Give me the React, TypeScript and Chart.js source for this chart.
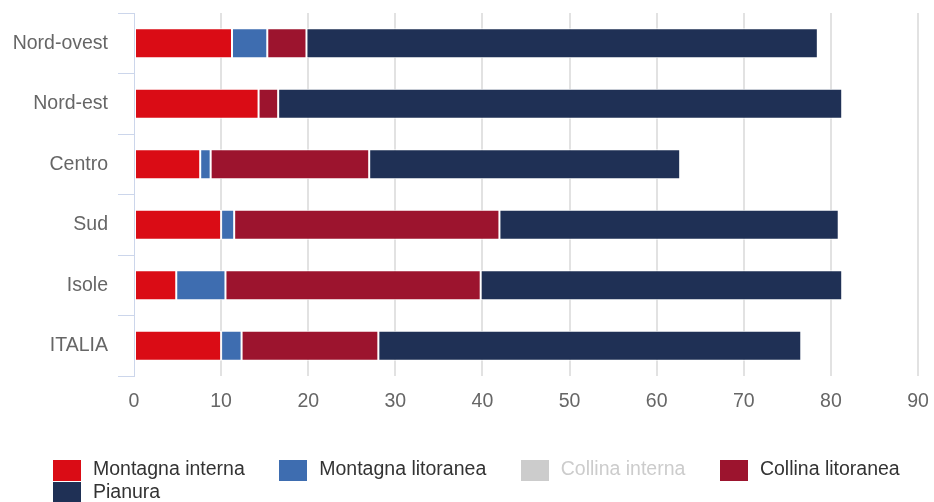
import React, { useEffect, useRef } from 'react';
import { Chart, registerables } from 'chart.js';

Chart.register(...registerables);

const categories = ['Nord-ovest', 'Nord-est', 'Centro', 'Sud', 'Isole', 'ITALIA'];
const montagnaInterna = [11.25, 14.3, 7.6, 10.0, 4.85, 10.0];
const montagnaLitoranea: (number | null)[] = [4.05, null, 1.2, 1.5, 5.65, 2.35];
const collinaInterna: (number | null)[] = [null, null, null, null, null, null];
const collinaLitoranea = [4.5, 2.25, 18.2, 30.45, 29.3, 15.7];
const pianura = [58.7, 64.75, 35.7, 38.95, 41.5, 48.55];
const xTicks = [0, 10, 20, 30, 40, 50, 60, 70, 80, 90];

const FONT = '"Liberation Sans", Arial, sans-serif';

const legendPlugin = {
  id: 'customLegend',
  afterDraw(chart: any) {
    const ctx = chart.ctx as CanvasRenderingContext2D;
    ctx.save();
    ctx.font = `19.5px ${FONT}`;
    ctx.textBaseline = 'middle';
    ctx.textAlign = 'left';
    const startX = 53;
    const rowH = 22.5;
    const boxW = 28;
    const boxH = 21;
    const gapText = 12;
    const gapItem = 34.5;
    const maxX = 934;
    let x = startX;
    let y = 470;
    chart.data.datasets.forEach((ds: any, i: number) => {
      const label = ds.label as string;
      const tw = ctx.measureText(label).width;
      const w = boxW + gapText + tw;
      if (x !== startX && x + w > maxX) {
        x = startX;
        y += rowH;
      }
      const visible = chart.isDatasetVisible(i);
      ctx.fillStyle = visible ? ds.backgroundColor : '#cccccc';
      ctx.fillRect(Math.round(x), Math.round(y - boxH / 2), boxW, boxH);
      ctx.fillStyle = visible ? '#333333' : '#cccccc';
      ctx.fillText(label, x + boxW + gapText, y);
      x += w + gapItem;
    });
    ctx.restore();
  },
};

export default function App() {
  const ref = useRef<HTMLCanvasElement | null>(null);
  useEffect(() => {
    if (!ref.current) return;
    const common = {
      borderColor: '#ffffff',
      borderWidth: 1,
      borderSkipped: false,
      categoryPercentage: 1,
      barPercentage: 0.496,
    };
    const chart = new Chart(ref.current, {
      type: 'bar',
      data: {
        labels: categories,
        datasets: [
          { label: 'Montagna interna', data: montagnaInterna, backgroundColor: '#da0c15', ...common },
          { label: 'Montagna litoranea', data: montagnaLitoranea, backgroundColor: '#3e6db0', ...common },
          { label: 'Collina interna', data: collinaInterna, backgroundColor: '#cccccc', hidden: true, ...common },
          { label: 'Collina litoranea', data: collinaLitoranea, backgroundColor: '#9c142e', ...common },
          { label: 'Pianura', data: pianura, backgroundColor: '#1f3055', ...common },
        ],
      },
      options: {
        indexAxis: 'y',
        animation: false,
        responsive: true,
        maintainAspectRatio: false,
        layout: { padding: { top: 13, right: 16, bottom: 86, left: 0 } },
        plugins: {
          legend: { display: false },
          tooltip: { enabled: false },
        },
        scales: {
          x: {
            stacked: true,
            min: 0,
            max: 90,
            afterFit: (s: any) => {
              s.height = 40;
              s.paddingLeft = 0;
              s.paddingRight = 0;
            },
            afterBuildTicks: (s: any) => { s.ticks = xTicks.map((v) => ({ value: v })); },
            grid: {
              drawTicks: false,
              lineWidth: 2,
              color: (c: any) => (c.tick && c.tick.value === 0 ? 'rgba(0,0,0,0)' : '#e2e2e2'),
            },
            border: { display: false },
            ticks: {
              padding: 14,
              color: '#666666',
              font: { family: FONT, size: 19.5 },
              maxRotation: 0,
            },
          },
          y: {
            stacked: true,
            afterFit: (s: any) => {
              s.width = 134;
              s.paddingTop = 0;
              s.paddingBottom = 0;
            },
            grid: {
              drawOnChartArea: false,
              drawTicks: true,
              tickLength: 16,
              color: '#ccd6eb',
              lineWidth: 1,
            },
            border: { display: true, color: '#ccd6eb', width: 1 },
            ticks: {
              padding: 10,
              color: '#666666',
              font: { family: FONT, size: 19.5 },
            },
          },
        },
      },
      plugins: [legendPlugin],
    } as any);
    return () => chart.destroy();
  }, []);
  return (
    <div style={{ position: 'absolute', left: 0, top: 0, width: 934, height: 502 }}>
      <canvas ref={ref} />
    </div>
  );
}
